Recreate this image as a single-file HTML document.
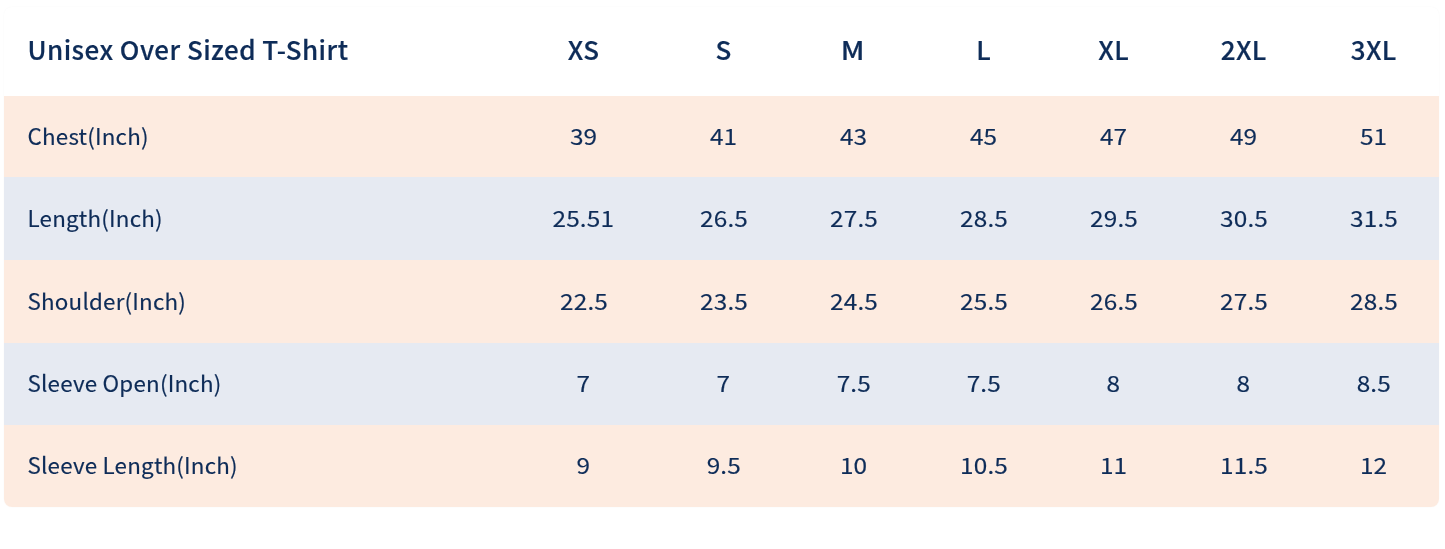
<!DOCTYPE html><html><head><meta charset="utf-8"><style>
*{margin:0;padding:0;box-sizing:border-box}
html,body{width:1445px;height:549px;background:#fff;overflow:hidden}
body{position:relative;filter:blur(0.3px);font-family:"Noto Sans CJK JP","Liberation Sans",sans-serif;color:#0e2c58}
.card{position:absolute;left:4px;top:7px;width:1435px;height:500px;border-radius:8px;background:#fff;box-shadow:0 0 2px rgba(0,0,0,0.03)}
.row{position:absolute;left:4px;width:1435px}
.row.last{border-radius:0 0 8px 8px}
.c{position:absolute;top:0;height:100%;display:flex;align-items:center;justify-content:center;white-space:nowrap}
.lab{position:absolute;left:23.5px;top:0;height:100%;display:flex;align-items:center;white-space:nowrap}
.h{font-size:26.0px;font-weight:500;letter-spacing:0.45px;-webkit-text-stroke:0.2px #0e2c58}
.h span{position:relative;top:-3.0px}
.h .c span{padding-left:0.45px}
.d{font-weight:400;-webkit-text-stroke:0.15px #0e2c58}
.d .lab span{font-size:22.4px;letter-spacing:0.2px;position:relative;top:-2.0px}
.d .c span{font-size:22.4px;letter-spacing:0.1px;padding-left:0.1px;display:inline-block;transform:scaleX(1.09);position:relative;top:-2.0px}
</style></head><body>
<div class="card"></div>
<div class="row h" style="top:7px;height:89px">
<div class="lab"><span>Unisex Over Sized T-Shirt</span></div>
<div class="c" style="left:504.5px;width:150px"><span>XS</span></div>
<div class="c" style="left:654.5px;width:130px"><span>S</span></div>
<div class="c" style="left:784.5px;width:130px"><span style="display:inline-block;transform:translateX(-0.6px) scaleX(1.1)">M</span></div>
<div class="c" style="left:914.5px;width:130px"><span>L</span></div>
<div class="c" style="left:1044.5px;width:130px"><span>XL</span></div>
<div class="c" style="left:1174.5px;width:130px"><span>2XL</span></div>
<div class="c" style="left:1304.5px;width:130px"><span>3XL</span></div>
</div>
<div class="row d" style="top:96px;height:81px;background:#fdebe0">
<div class="lab"><span>Chest(Inch)</span></div>
<div class="c" style="left:504.5px;width:150px"><span>39</span></div>
<div class="c" style="left:654.5px;width:130px"><span>41</span></div>
<div class="c" style="left:784.5px;width:130px"><span>43</span></div>
<div class="c" style="left:914.5px;width:130px"><span>45</span></div>
<div class="c" style="left:1044.5px;width:130px"><span>47</span></div>
<div class="c" style="left:1174.5px;width:130px"><span>49</span></div>
<div class="c" style="left:1304.5px;width:130px"><span>51</span></div>
</div>
<div class="row d" style="top:177px;height:83px;background:#e6eaf2">
<div class="lab"><span>Length(Inch)</span></div>
<div class="c" style="left:504.5px;width:150px"><span>25.51</span></div>
<div class="c" style="left:654.5px;width:130px"><span>26.5</span></div>
<div class="c" style="left:784.5px;width:130px"><span>27.5</span></div>
<div class="c" style="left:914.5px;width:130px"><span>28.5</span></div>
<div class="c" style="left:1044.5px;width:130px"><span>29.5</span></div>
<div class="c" style="left:1174.5px;width:130px"><span>30.5</span></div>
<div class="c" style="left:1304.5px;width:130px"><span>31.5</span></div>
</div>
<div class="row d" style="top:260px;height:83px;background:#fdebe0">
<div class="lab"><span>Shoulder(Inch)</span></div>
<div class="c" style="left:504.5px;width:150px"><span>22.5</span></div>
<div class="c" style="left:654.5px;width:130px"><span>23.5</span></div>
<div class="c" style="left:784.5px;width:130px"><span>24.5</span></div>
<div class="c" style="left:914.5px;width:130px"><span>25.5</span></div>
<div class="c" style="left:1044.5px;width:130px"><span>26.5</span></div>
<div class="c" style="left:1174.5px;width:130px"><span>27.5</span></div>
<div class="c" style="left:1304.5px;width:130px"><span>28.5</span></div>
</div>
<div class="row d" style="top:343px;height:82px;background:#e6eaf2">
<div class="lab"><span>Sleeve Open(Inch)</span></div>
<div class="c" style="left:504.5px;width:150px"><span>7</span></div>
<div class="c" style="left:654.5px;width:130px"><span>7</span></div>
<div class="c" style="left:784.5px;width:130px"><span>7.5</span></div>
<div class="c" style="left:914.5px;width:130px"><span>7.5</span></div>
<div class="c" style="left:1044.5px;width:130px"><span>8</span></div>
<div class="c" style="left:1174.5px;width:130px"><span>8</span></div>
<div class="c" style="left:1304.5px;width:130px"><span>8.5</span></div>
</div>
<div class="row d last" style="top:425px;height:82px;background:#fdebe0">
<div class="lab"><span>Sleeve Length(Inch)</span></div>
<div class="c" style="left:504.5px;width:150px"><span>9</span></div>
<div class="c" style="left:654.5px;width:130px"><span>9.5</span></div>
<div class="c" style="left:784.5px;width:130px"><span>10</span></div>
<div class="c" style="left:914.5px;width:130px"><span>10.5</span></div>
<div class="c" style="left:1044.5px;width:130px"><span>11</span></div>
<div class="c" style="left:1174.5px;width:130px"><span>11.5</span></div>
<div class="c" style="left:1304.5px;width:130px"><span>12</span></div>
</div>
</body></html>
